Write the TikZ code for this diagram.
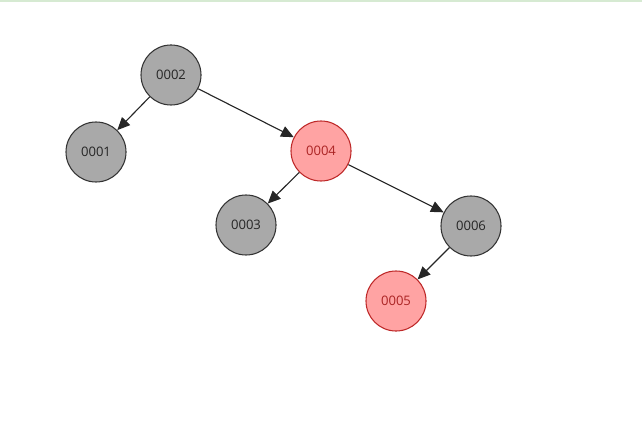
\documentclass[tikz,border=0pt]{standalone}
\usepackage{fontspec}
\setmainfont{Open Sans}
\usetikzlibrary{arrows.meta}
\definecolor{nodegray}{RGB}{169,169,169}
\definecolor{nodered}{RGB}{255,163,163}
\definecolor{edgered}{RGB}{190,40,40}
\definecolor{topgreen}{RGB}{214,234,210}

\begin{document}
\begin{tikzpicture}[x=0.025cm, y=-0.025cm,
    blacknode/.style={circle, draw=black!80, line width=0.75pt, fill=nodegray,
        minimum size=1.5cm, inner sep=0pt, font=\fontsize{9.3}{10}\selectfont, text=black!85},
    rednode/.style={circle, draw=edgered, line width=0.75pt, fill=nodered,
        minimum size=1.5cm, inner sep=0pt, font=\fontsize{9.3}{10}\selectfont,
        text=edgered!90!black},
    link/.style={-{Triangle[length=9pt,width=8pt]}, black!85, line width=0.8pt}]

\useasboundingbox (0,0) rectangle (642,432);
\fill[topgreen] (0,0) rectangle (642,2);

% Row 0
\node[blacknode] (n2) at (171, 75)  {0002};
% Row 1
\node[blacknode] (n1) at ( 96,152)  {0001};
\node[rednode]   (n4) at (321,151)  {0004};
% Row 2
\node[blacknode] (n3) at (246,225)  {0003};
\node[blacknode] (n6) at (471,226)  {0006};
% Row 3
\node[rednode]   (n5) at (396,301)  {0005};

\draw[link] (n2) -- (n1);
\draw[link] (n2) -- (n4);
\draw[link] (n4) -- (n3);
\draw[link] (n4) -- (n6);
\draw[link] (n6) -- (n5);

\end{tikzpicture}
\end{document}
